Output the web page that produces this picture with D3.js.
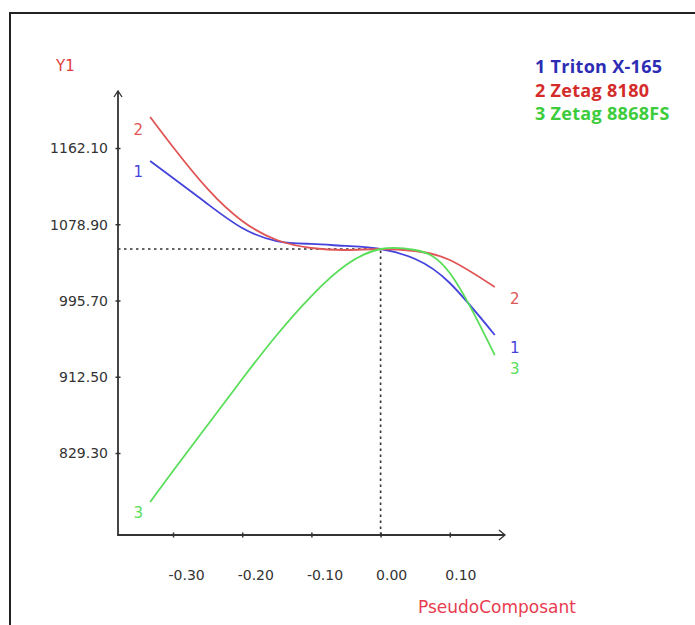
<!DOCTYPE html>
<html>
<head>
<meta charset="utf-8">
<script src="https://cdn.jsdelivr.net/npm/d3@7"></script>
<style>
  body { margin: 0; background: #fff; }
  svg { display: block; }
  .tick text { font-family: "DejaVu Sans", sans-serif; font-size: 14px; fill: #333; }
</style>
</head>
<body>
<svg id="chart" width="695" height="625"></svg>
<script>
// pseudo-component values along the x axis
const xVals = [-0.333, -0.30, -0.25, -0.20, -0.15, -0.10, -0.05, 0.00, 0.05, 0.10, 0.165];

// Y1 response for each product
const triton = [1147.9, 1129.4, 1101.0, 1074.8, 1060.6, 1057.4, 1055.2, 1051.9, 1041.0, 1014.8, 958.1];
const zetag8180 = [1195.9, 1163.2, 1117.4, 1082.5, 1061.7, 1053.0, 1050.8, 1051.9, 1049.7, 1039.9, 1010.4];
const zetag8868 = [775.8, 809.7, 859.9, 910.0, 958.1, 1000.6, 1034.4, 1051.9, 1050.8, 1025.7, 936.2];

const seriesNames = ["1 Triton X-165", "2 Zetag 8180", "3 Zetag 8868FS"];
const seriesIds = ["1", "2", "3"];
const lineColors = ["#4444dc", "#e05555", "#5ade5a"];
const legendColors = ["#2c2cb4", "#d42c2c", "#3ccc3c"];

const xTicks = [-0.30, -0.20, -0.10, 0.00, 0.10];
const yTicks = [829.30, 912.50, 995.70, 1078.90, 1162.10];

// reference point (dashed guides)
const refX = 0.00;
const refY = 1051.9;

const svg = d3.select("#chart");

const xScale = d3.scaleLinear().domain([-0.30, 0.10]).range([173, 449.8]);
const yScale = d3.scaleLinear().domain([829.30, 1162.10]).range([453, 148]);

const axisLeft = 118, axisBottom = 535;
const axisRight = 505, axisTop = 91;

// frame
svg.append("path")
    .attr("d", `M10,625 L10,13 L695,13`)
    .attr("fill", "none")
    .attr("stroke", "#222")
    .attr("stroke-width", 2);

// dashed guides
svg.append("path")
    .attr("d", `M${axisLeft},${yScale(refY)} L${xScale(refX)},${yScale(refY)} L${xScale(refX)},${axisBottom}`)
    .attr("fill", "none")
    .attr("stroke", "#333")
    .attr("stroke-width", 1.6)
    .attr("stroke-dasharray", "2.5,3.5");

// x axis
const x_axis = d3.axisBottom(xScale)
    .tickValues(xTicks)
    .tickFormat(d => d3.format(".2f")(d).replace("−", "-"))
    .tickSize(0);
const gx = svg.append("g")
    .attr("transform", `translate(0, ${axisBottom})`)
    .call(x_axis);
gx.select(".domain").remove();
gx.selectAll(".tick line").attr("y1", -2.5).attr("y2", 2.5).attr("stroke", "#333").attr("stroke-width", 1.5);
gx.selectAll(".tick text")
    .attr("y", 35)
    .attr("x", -5)
    .attr("text-anchor", "start");

// y axis
const y_axis = d3.axisLeft(yScale)
    .tickValues(yTicks)
    .tickFormat(d3.format(".2f"))
    .tickSize(0);
const gy = svg.append("g")
    .attr("transform", `translate(${axisLeft}, 0)`)
    .call(y_axis);
gy.select(".domain").remove();
gy.selectAll(".tick line").attr("x1", -2.5).attr("x2", 2.5).attr("stroke", "#333").attr("stroke-width", 1.5);
gy.selectAll(".tick text").attr("x", -10).attr("dy", "0.35em");

// axis lines with open arrows
svg.append("path")
    .attr("d", `M${axisLeft},${axisTop} L${axisLeft},${axisBottom} L${axisRight},${axisBottom}`)
    .attr("fill", "none")
    .attr("stroke", "#333")
    .attr("stroke-width", 1.8);
svg.append("path")
    .attr("d", `M${axisLeft - 4},${axisTop + 6} L${axisLeft},${axisTop} L${axisLeft + 4},${axisTop + 6}`)
    .attr("fill", "none").attr("stroke", "#333").attr("stroke-width", 1.3);
svg.append("path")
    .attr("d", `M${axisRight - 6},${axisBottom - 5} L${axisRight},${axisBottom} L${axisRight - 6},${axisBottom + 5}`)
    .attr("fill", "none").attr("stroke", "#333").attr("stroke-width", 1.3);

// curves
const allSeries = [triton, zetag8180, zetag8868];
const line = d3.line()
    .x((d, i) => xScale(xVals[i]))
    .y(d => yScale(d))
    .curve(d3.curveNatural);

svg.selectAll(".curve")
    .data(allSeries)
    .join("path")
    .attr("class", "curve")
    .attr("d", d => line(d))
    .attr("fill", "none")
    .attr("stroke", (d, i) => lineColors[i])
    .attr("stroke-width", 1.8);

// series numbers next to curve ends
const last = xVals.length - 1;
const startOffsets = [[-12, 16], [-12, 18], [-12, 16]];
const endOffsets = [[20, 18], [20, 17], [20, 19]];
allSeries.forEach((s, i) => {
    svg.append("text")
        .attr("x", xScale(xVals[0]) + startOffsets[i][0])
        .attr("y", yScale(s[0]) + startOffsets[i][1])
        .attr("text-anchor", "middle")
        .attr("font-family", "DejaVu Sans, sans-serif")
        .attr("font-size", 15)
        .attr("fill", lineColors[i])
        .text(seriesIds[i]);
    svg.append("text")
        .attr("x", xScale(xVals[last]) + endOffsets[i][0])
        .attr("y", yScale(s[last]) + endOffsets[i][1])
        .attr("text-anchor", "middle")
        .attr("font-family", "DejaVu Sans, sans-serif")
        .attr("font-size", 15)
        .attr("fill", lineColors[i])
        .text(seriesIds[i]);
});

// axis titles
svg.append("text")
    .attr("x", 56).attr("y", 71)
    .attr("font-family", "DejaVu Sans, sans-serif")
    .attr("font-size", 15)
    .attr("fill", "#e03c3c")
    .text("Y1");

svg.append("text")
    .attr("x", 418).attr("y", 613)
    .attr("font-family", "DejaVu Sans, sans-serif")
    .attr("font-size", 17)
    .attr("fill", "#e83c50")
    .text("PseudoComposant");

// legend
svg.selectAll(".legend")
    .data(seriesNames)
    .join("text")
    .attr("class", "legend")
    .attr("x", 535)
    .attr("y", (d, i) => 73 + i * 23.5)
    .attr("font-family", "Open Sans, sans-serif")
    .attr("font-weight", "bold")
    .attr("font-size", 18)
    .attr("letter-spacing", 0.3)
    .attr("fill", (d, i) => legendColors[i])
    .text(d => d);
</script>
</body>
</html>
